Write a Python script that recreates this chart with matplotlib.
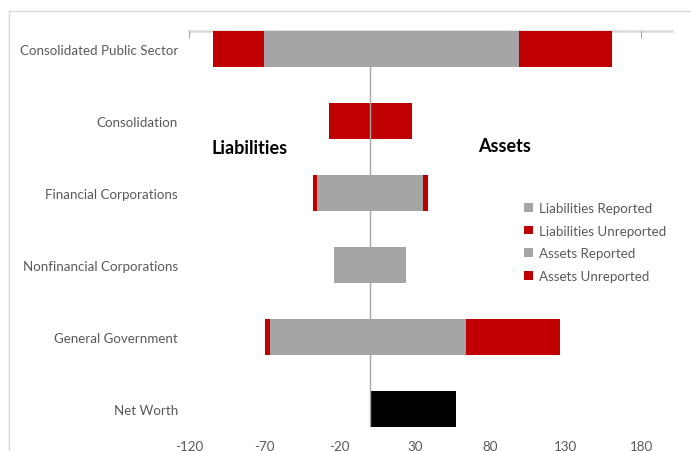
import matplotlib
matplotlib.use("Agg")
import matplotlib.pyplot as plt
from matplotlib.lines import Line2D
import numpy as np

categories = ["Consolidated Public Sector", "Consolidation", "Financial Corporations",
              "Nonfinancial Corporations", "General Government", "Net Worth"]
liab_reported = [-70, 0, -35, -24, -66, 0]
liab_unreported = [-34, -27, -2.5, 0, -3.5, 0]
assets_reported = [99, 0, 35, 24, 64, 0]
assets_unreported = [62, 28, 3.5, 0, 62.5, 0]
net_worth = [0, 0, 0, 0, 0, 57]
xticks = [-120, -70, -20, 30, 80, 130, 180]

GRAY = "#A5A5A5"
RED = "#C00000"
TXT = "#595959"
FONT = "Lato"
FS = 9.6

W, H = 691, 452
fig = plt.figure(figsize=(W / 100, H / 100), dpi=100)
left, right, top, bottom = 189, 672, 32, 428
ax = fig.add_axes([left / W, 1 - bottom / H, (right - left) / W, (bottom - top) / H])

y = np.arange(len(categories))
h = 0.5
lr = np.array(liab_reported, float)
lu = np.array(liab_unreported, float)
ar = np.array(assets_reported, float)
au = np.array(assets_unreported, float)

ax.barh(y, lr, height=h, color=GRAY, label="Liabilities Reported", zorder=2)
ax.barh(y, lu, left=lr, height=h, color=RED, label="Liabilities Unreported", zorder=2)
ax.barh(y, ar, height=h, color=GRAY, label="Assets Reported", zorder=2)
ax.barh(y, au, left=ar, height=h, color=RED, label="Assets Unreported", zorder=2)
ax.barh(y, net_worth, height=h, color="black", zorder=2)

ax.set_xlim(-120, 200.5)
ax.set_ylim(len(categories) - 1 + h / 2, -h / 2)
ax.axvline(0, color="#A6A6A6", lw=1, zorder=3)

for s in ["left", "right", "bottom"]:
    ax.spines[s].set_visible(False)
ax.spines["top"].set_color("#D9D9D9")
ax.spines["top"].set_linewidth(1.8)
ax.spines["top"].set_zorder(1)

ax.set_xticks(xticks)
ax.set_xticklabels([str(t) for t in xticks])
ax.tick_params(axis="x", which="both", top=True, bottom=False, labeltop=False,
               labelbottom=True, direction="in", length=5, color="#A6A6A6",
               labelsize=FS, labelcolor=TXT, pad=9.5)
ax.set_yticks(y)
ax.set_yticklabels(categories)
ax.tick_params(axis="y", left=False, labelsize=FS, labelcolor=TXT, pad=4.5)
for lab in ax.get_xticklabels() + ax.get_yticklabels():
    lab.set_fontfamily(FONT)

fig.text(249.5 / W, 1 - 148 / H, "Liabilities", ha="center", va="center",
         fontsize=13, fontweight="bold", family=FONT, color="black")
fig.text(505 / W, 1 - 147 / H, "Assets", ha="center", va="center",
         fontsize=13, fontweight="bold", family=FONT, color="black")

leg = ax.legend(loc="upper left", bbox_to_anchor=(512 / W, 1 - 191 / H),
                bbox_transform=fig.transFigure, frameon=False,
                handlelength=0.65, handleheight=0.65, handletextpad=0.45,
                labelspacing=0.8, prop={"family": FONT, "size": FS})
for t in leg.get_texts():
    t.set_color(TXT)

# chart border (top and left visible)
fig.add_artist(Line2D([8.7 / W, 1], [1 - 12 / H, 1 - 12 / H], transform=fig.transFigure,
                      color="#D9D9D9", lw=1))
fig.add_artist(Line2D([8.7 / W, 8.7 / W], [0, 1 - 12 / H], transform=fig.transFigure,
                      color="#D9D9D9", lw=1))

fig.savefig("out.png", dpi=100)
